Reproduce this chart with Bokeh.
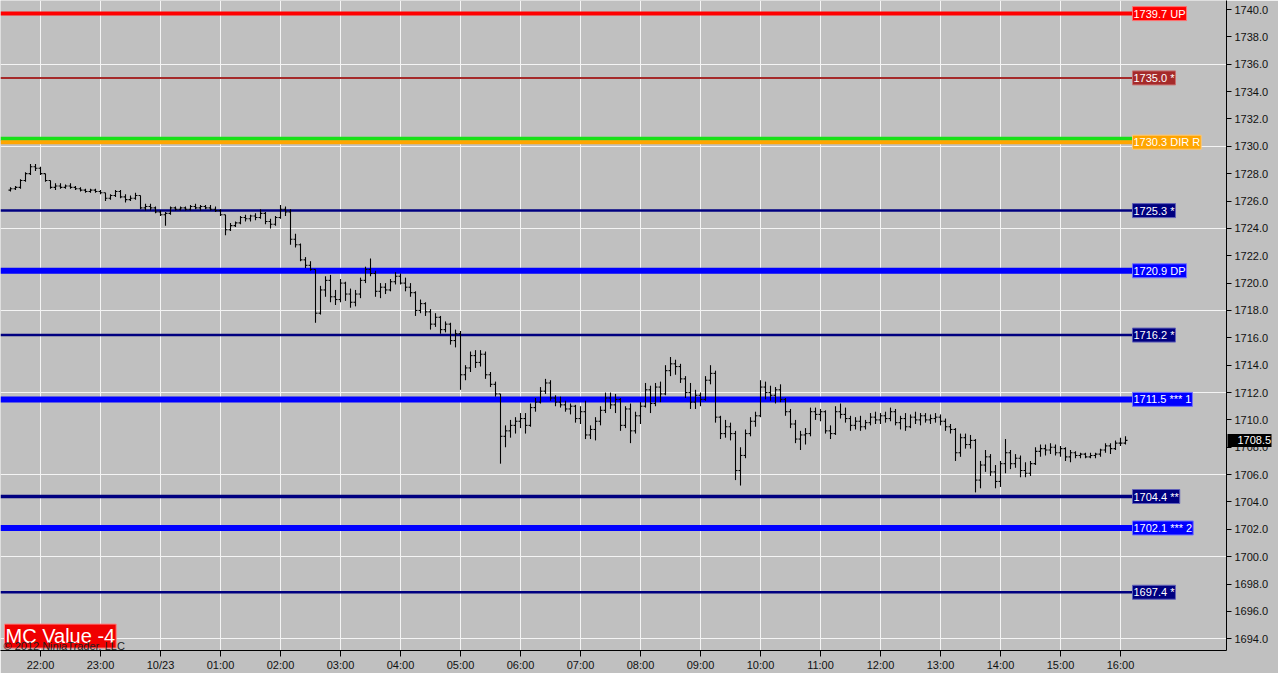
from bokeh.plotting import figure
from bokeh.models import (FixedTicker, Label, NumeralTickFormatter, ColumnDataSource,
                          LinearAxis)
from bokeh.embed import file_html
from bokeh.resources import INLINE

# ---------------- data ----------------
# 5-minute OHLC bars, first bar at 21:30 (10/22); x unit = hours after 22:00
bar_start_hour = -0.5
bar_minutes = 5

opens = [1726.8, 1726.9, 1727.0, 1727.5, 1728.0, 1728.5, 1728.4, 1728.0, 1727.5, 1727.0,
         1727.1, 1727.0, 1727.1, 1727.0, 1726.9, 1726.8, 1726.7, 1726.8, 1726.7, 1726.6,
         1726.2, 1726.4, 1726.7, 1726.3, 1726.1, 1726.2, 1726.4, 1725.5, 1725.6, 1725.5,
         1725.2, 1725.0, 1725.1, 1725.5, 1725.4, 1725.5, 1725.4, 1725.6, 1725.5, 1725.6,
         1725.5, 1725.4, 1725.3, 1725.0, 1723.9, 1724.2, 1724.4, 1724.8, 1724.7, 1724.9,
         1724.8, 1725.1, 1724.5, 1724.3, 1724.8, 1725.4, 1725.2, 1723.2, 1722.8, 1721.7,
         1721.3, 1721.0, 1717.8, 1719.5, 1720.2, 1719.0, 1718.8, 1720.0, 1719.2, 1718.6,
         1719.2, 1720.2, 1721.0, 1720.7, 1719.4, 1719.7, 1719.5, 1720.1, 1720.5, 1720.0,
         1719.7, 1719.3, 1718.0, 1718.5, 1717.9, 1717.0, 1717.5, 1716.6, 1717.0, 1715.8,
         1716.3, 1713.3, 1713.8, 1714.7, 1714.2, 1714.8, 1713.3, 1712.6, 1711.9, 1708.8,
         1709.2, 1709.6, 1709.9, 1710.1, 1709.6, 1710.9, 1711.3, 1712.1, 1712.7, 1711.6,
         1711.3, 1711.1, 1710.8, 1711.0, 1710.1, 1710.6, 1708.9, 1709.3, 1709.9, 1710.7,
         1711.6, 1711.1, 1711.5, 1709.6, 1710.8, 1709.2, 1710.3, 1711.0, 1712.2, 1711.2,
         1712.4, 1711.9, 1713.6, 1714.1, 1713.9, 1713.0, 1712.0, 1711.3, 1711.8, 1711.5,
         1712.9, 1713.4, 1710.2, 1709.0, 1709.5, 1709.0, 1706.3, 1707.4, 1709.0, 1709.9,
         1710.3, 1712.4, 1712.0, 1711.8, 1712.2, 1711.5, 1710.6, 1709.7, 1708.6, 1708.9,
         1709.0, 1710.6, 1710.4, 1710.6, 1709.2, 1709.0, 1710.6, 1710.4, 1710.1, 1709.6,
         1709.9, 1709.5, 1709.8, 1710.2, 1710.0, 1710.3, 1710.1, 1710.6, 1709.8, 1710.1,
         1709.5, 1710.2, 1710.0, 1710.3, 1710.0, 1710.1, 1710.2, 1709.9, 1709.5, 1709.3,
         1707.6, 1708.7, 1708.2, 1708.5, 1705.6, 1706.7, 1707.3, 1706.2, 1705.5, 1706.8,
         1707.6, 1706.8, 1707.2, 1706.3, 1706.1, 1706.8, 1707.7, 1707.9, 1707.8, 1708.0,
         1707.6, 1707.9, 1707.3, 1707.6, 1707.4, 1707.5, 1707.3, 1707.4, 1707.5, 1707.8,
         1708.1, 1707.9, 1708.3, 1708.3]
highs = [1727.0, 1727.1, 1727.6, 1728.1, 1728.7, 1728.7, 1728.5, 1728.0, 1727.5, 1727.3,
         1727.3, 1727.2, 1727.3, 1727.1, 1727.0, 1726.9, 1726.9, 1726.9, 1726.8, 1726.6,
         1726.5, 1726.8, 1726.8, 1726.5, 1726.4, 1726.6, 1726.4, 1725.8, 1725.8, 1725.6,
         1725.3, 1725.2, 1725.6, 1725.6, 1725.6, 1725.6, 1725.7, 1725.8, 1725.7, 1725.7,
         1725.7, 1725.6, 1725.4, 1725.0, 1724.4, 1724.5, 1724.9, 1725.0, 1725.0, 1725.1,
         1725.4, 1725.2, 1724.7, 1724.9, 1725.7, 1725.6, 1725.4, 1723.6, 1722.9, 1721.9,
         1721.6, 1721.0, 1719.8, 1720.5, 1720.6, 1719.5, 1720.3, 1720.1, 1719.6, 1719.5,
         1720.4, 1721.2, 1721.8, 1720.9, 1720.0, 1720.0, 1720.3, 1720.8, 1720.7, 1720.4,
         1720.0, 1719.4, 1718.8, 1718.6, 1718.1, 1717.8, 1717.6, 1717.2, 1717.1, 1716.6,
         1716.5, 1714.0, 1715.0, 1715.1, 1715.1, 1715.0, 1713.5, 1712.8, 1711.9, 1709.6,
         1710.0, 1710.2, 1710.5, 1710.5, 1711.2, 1711.6, 1712.4, 1713.0, 1712.9, 1711.8,
         1711.7, 1711.4, 1711.2, 1711.1, 1711.0, 1711.4, 1709.6, 1710.2, 1711.0, 1712.0,
         1712.0, 1711.9, 1711.6, 1711.0, 1711.2, 1710.6, 1711.3, 1712.7, 1712.5, 1712.7,
         1712.8, 1714.0, 1714.6, 1714.4, 1714.1, 1713.2, 1712.7, 1712.2, 1712.0, 1713.2,
         1714.0, 1713.6, 1710.3, 1710.0, 1709.8, 1709.2, 1708.0, 1709.3, 1710.2, 1710.6,
         1712.9, 1712.8, 1712.5, 1712.4, 1712.6, 1711.6, 1710.8, 1710.0, 1709.2, 1709.4,
         1710.9, 1710.9, 1710.8, 1710.7, 1709.6, 1711.0, 1711.2, 1710.9, 1710.3, 1710.2,
         1710.3, 1710.0, 1710.5, 1710.6, 1710.5, 1710.6, 1710.9, 1710.8, 1710.3, 1710.5,
         1710.4, 1710.6, 1710.5, 1710.5, 1710.4, 1710.5, 1710.4, 1710.1, 1709.7, 1709.4,
         1709.0, 1709.0, 1708.9, 1708.6, 1707.0, 1707.8, 1707.5, 1706.7, 1707.0, 1708.6,
         1707.8, 1707.5, 1707.4, 1706.9, 1707.0, 1708.0, 1708.2, 1708.2, 1708.3, 1708.2,
         1708.1, 1708.0, 1707.8, 1707.7, 1707.6, 1707.6, 1707.6, 1707.6, 1707.9, 1708.3,
         1708.3, 1708.5, 1708.7, 1708.8]
lows = [1726.7, 1726.8, 1726.9, 1727.4, 1727.9, 1728.2, 1727.9, 1727.4, 1726.9, 1726.8,
        1726.9, 1726.9, 1726.9, 1726.8, 1726.7, 1726.6, 1726.6, 1726.6, 1726.5, 1726.0,
        1726.1, 1726.3, 1726.2, 1725.9, 1726.0, 1726.1, 1725.4, 1725.3, 1725.3, 1725.1,
        1724.9, 1724.2, 1725.0, 1725.3, 1725.3, 1725.3, 1725.3, 1725.4, 1725.3, 1725.4,
        1725.3, 1725.2, 1724.9, 1723.5, 1723.8, 1724.1, 1724.3, 1724.5, 1724.5, 1724.6,
        1724.7, 1724.3, 1724.0, 1724.2, 1724.7, 1724.9, 1722.8, 1722.6, 1721.6, 1721.1,
        1720.9, 1717.1, 1717.7, 1719.0, 1718.6, 1718.4, 1718.6, 1718.7, 1718.2, 1718.3,
        1718.9, 1720.0, 1720.5, 1719.0, 1718.9, 1719.2, 1719.4, 1719.9, 1719.9, 1719.4,
        1719.0, 1717.6, 1717.8, 1717.6, 1716.6, 1716.8, 1716.3, 1716.4, 1715.5, 1715.3,
        1712.2, 1712.9, 1713.5, 1713.8, 1713.9, 1713.0, 1712.4, 1711.7, 1706.8, 1708.0,
        1708.7, 1709.0, 1709.4, 1709.0, 1709.5, 1710.6, 1711.2, 1711.9, 1711.4, 1711.0,
        1710.9, 1710.6, 1710.4, 1709.8, 1709.7, 1708.6, 1708.6, 1708.5, 1709.6, 1710.5,
        1710.8, 1710.5, 1709.2, 1709.4, 1708.3, 1709.0, 1709.7, 1710.9, 1710.5, 1711.0,
        1711.3, 1711.8, 1713.2, 1713.3, 1712.7, 1711.6, 1710.8, 1710.8, 1711.0, 1711.4,
        1712.6, 1709.8, 1708.6, 1708.7, 1708.5, 1705.6, 1705.2, 1707.2, 1708.8, 1709.5,
        1710.2, 1711.5, 1711.4, 1711.2, 1711.3, 1710.3, 1709.4, 1708.3, 1707.8, 1708.2,
        1708.8, 1710.0, 1709.9, 1709.0, 1708.6, 1708.9, 1710.1, 1709.8, 1709.2, 1709.3,
        1709.2, 1709.3, 1709.6, 1709.7, 1709.7, 1709.8, 1709.9, 1709.6, 1709.3, 1709.2,
        1709.4, 1709.7, 1709.6, 1709.8, 1709.7, 1709.8, 1709.6, 1709.2, 1709.0, 1707.0,
        1707.3, 1707.9, 1707.9, 1704.7, 1705.0, 1706.2, 1705.9, 1705.0, 1705.1, 1706.1,
        1706.4, 1706.5, 1705.8, 1705.8, 1705.9, 1706.7, 1707.3, 1707.4, 1707.5, 1707.4,
        1707.3, 1707.0, 1706.9, 1707.2, 1707.2, 1707.2, 1707.2, 1707.2, 1707.3, 1707.6,
        1707.5, 1707.8, 1708.1, 1708.2]
closes = [1726.9, 1727.0, 1727.5, 1728.0, 1728.5, 1728.4, 1728.0, 1727.5, 1727.0, 1727.1,
          1727.0, 1727.1, 1727.0, 1726.9, 1726.8, 1726.7, 1726.8, 1726.7, 1726.6, 1726.2,
          1726.4, 1726.7, 1726.3, 1726.1, 1726.2, 1726.4, 1725.5, 1725.6, 1725.5, 1725.2,
          1725.0, 1725.1, 1725.5, 1725.4, 1725.5, 1725.4, 1725.6, 1725.5, 1725.6, 1725.5,
          1725.4, 1725.3, 1725.0, 1723.9, 1724.2, 1724.4, 1724.8, 1724.7, 1724.9, 1724.8,
          1725.1, 1724.5, 1724.3, 1724.8, 1725.4, 1725.2, 1723.2, 1722.8, 1721.7, 1721.3,
          1721.0, 1717.8, 1719.5, 1720.2, 1719.0, 1718.8, 1720.0, 1719.2, 1718.6, 1719.2,
          1720.2, 1721.0, 1720.7, 1719.4, 1719.7, 1719.5, 1720.1, 1720.5, 1720.0, 1719.7,
          1719.3, 1718.0, 1718.5, 1717.9, 1717.0, 1717.5, 1716.6, 1717.0, 1715.8, 1716.3,
          1713.3, 1713.8, 1714.7, 1714.2, 1714.8, 1713.3, 1712.6, 1711.9, 1708.8, 1709.2,
          1709.6, 1709.9, 1710.1, 1709.6, 1710.9, 1711.3, 1712.1, 1712.7, 1711.6, 1711.3,
          1711.1, 1710.8, 1711.0, 1710.1, 1710.6, 1708.9, 1709.3, 1709.9, 1710.7, 1711.6,
          1711.1, 1711.5, 1709.6, 1710.8, 1709.2, 1710.3, 1711.0, 1712.2, 1711.2, 1712.4,
          1711.9, 1713.6, 1714.1, 1713.9, 1713.0, 1712.0, 1711.3, 1711.8, 1711.5, 1712.9,
          1713.4, 1710.2, 1709.0, 1709.5, 1709.0, 1706.3, 1707.4, 1709.0, 1709.9, 1710.3,
          1712.4, 1712.0, 1711.8, 1712.2, 1711.5, 1710.6, 1709.7, 1708.6, 1708.9, 1709.0,
          1710.6, 1710.4, 1710.6, 1709.2, 1709.0, 1710.6, 1710.4, 1710.1, 1709.6, 1709.9,
          1709.5, 1709.8, 1710.2, 1710.0, 1710.3, 1710.1, 1710.6, 1709.8, 1710.1, 1709.5,
          1710.2, 1710.0, 1710.3, 1710.0, 1710.1, 1710.2, 1709.9, 1709.5, 1709.3, 1707.6,
          1708.7, 1708.2, 1708.5, 1705.6, 1706.7, 1707.3, 1706.2, 1705.5, 1706.8, 1707.6,
          1706.8, 1707.2, 1706.3, 1706.1, 1706.8, 1707.7, 1707.9, 1707.8, 1708.0, 1707.6,
          1707.9, 1707.3, 1707.6, 1707.4, 1707.5, 1707.3, 1707.4, 1707.5, 1707.8, 1708.1,
          1707.9, 1708.3, 1708.3, 1708.5]

tick_hours = list(range(0, 19))
tick_labels = ["22:00", "23:00", "10/23", "01:00", "02:00", "03:00", "04:00", "05:00",
               "06:00", "07:00", "08:00", "09:00", "10:00", "11:00", "12:00", "13:00",
               "14:00", "15:00", "16:00"]
price_ticks = [1694 + 2 * k for k in range(24)]
price_grid = [1694 + 6 * k for k in range(8)]

level_values = [1739.7, 1735.0, 1730.3, 1725.3, 1720.9, 1716.2, 1711.5, 1704.4, 1702.1, 1697.4]
level_names = ["UP", "*", "DIR R", "*", "DP", "*", "*** 1", "**", "*** 2", "*"]
level_colors = ["#FF0000", "#A52A2A", "#FFA500", "#000080", "#0000FF",
                "#000080", "#0000FF", "#000080", "#0000FF", "#000080"]
level_borders = ["#FF7070", "#C87070", "#FFC870", "#6060B8", "#7070FF",
                 "#6060B8", "#7070FF", "#6060B8", "#7070FF", "#6060B8"]
level_widths = [4, 2, 4, 2.5, 6, 2.5, 6, 3.5, 6, 2.5]
green_level = 1730.55
last_price = 1708.5
mc_text = "MC Value -4"
copyright_text = "\u00a9 2012 NinjaTrader, LLC"

# ---------------- layout constants ----------------
x_start, x_end = -0.6667, 19.7667
y_start, y_end = 1693.143, 1740.658
line_end = 18.2          # where level lines stop / labels begin
tick_w = 2.0 / 60.0       # open/close tick length (hours)
FONT = "Liberation Sans"
BG = "#C0C0C0"

n = len(closes)
times = [bar_start_hour + i * bar_minutes / 60.0 for i in range(n)]
src = ColumnDataSource(dict(
    t=times, o=opens, h=highs, l=lows, c=closes,
    tl=[t - tick_w for t in times], tr=[t + tick_w for t in times]))

p = figure(frame_width=1226, frame_height=650, x_range=(x_start, x_end),
           y_range=(y_start, y_end), y_axis_location="right",
           output_backend="svg", toolbar_location=None, min_border=0,
           min_border_right=52,
           background_fill_color=BG, border_fill_color=BG,
           outline_line_color=None)

# price axis (right)
yax = p.yaxis[0]
yax.ticker = FixedTicker(ticks=price_ticks)
yax.formatter = NumeralTickFormatter(format="0.0")
yax.major_tick_in = 0
yax.major_tick_out = 5
yax.minor_tick_line_color = None
yax.axis_line_color = "black"
yax.major_tick_line_color = "black"
yax.major_label_text_font = FONT
yax.major_label_text_font_size = "11px"
yax.major_label_text_color = "#111111"
yax.major_label_standoff = 3

# outer right axis for the last-price tag: its single tick points inward as a black bar
# lying over the price labels, and its white label is pulled back onto that bar
tag_axis = LinearAxis(ticker=FixedTicker(ticks=[last_price]),
                      formatter=NumeralTickFormatter(format="0.0"),
                      major_tick_in=44, major_tick_out=0,
                      major_tick_line_color="black", major_tick_line_width=13,
                      minor_tick_line_color=None,
                      axis_line_color=None, major_label_standoff=-34,
                      major_label_text_color="white", major_label_text_font=FONT,
                      major_label_text_font_size="11px")
p.add_layout(tag_axis, "right")

p.xaxis.ticker = FixedTicker(ticks=tick_hours)
p.xaxis.major_label_overrides = {h: lab for h, lab in zip(tick_hours, tick_labels)}
p.xaxis.major_tick_in = 0
p.xaxis.major_tick_out = 6
p.xaxis.minor_tick_line_color = None
p.xaxis.axis_line_color = "black"
p.xaxis.major_tick_line_color = "black"
p.xaxis.major_label_text_font = FONT
p.xaxis.major_label_text_font_size = "11px"
p.xaxis.major_label_text_color = "#111111"
p.xaxis.major_label_standoff = 2

# grids
p.xgrid.grid_line_color = "#F4F4F4"
p.xgrid.grid_line_width = 1
p.ygrid.ticker = FixedTicker(ticks=price_grid)
p.ygrid.grid_line_color = "#F4F4F4"
p.ygrid.grid_line_width = 1

# level lines
p.segment(x0=[x_start], y0=[green_level], x1=[line_end], y1=[green_level],
          line_color="#18E018", line_width=4)
p.segment(x0=[x_start] * len(level_values), y0=level_values,
          x1=[line_end] * len(level_values), y1=level_values,
          line_color=level_colors, line_width=level_widths)

# OHLC bars
p.segment(x0="t", y0="l", x1="t", y1="h", source=src, line_color="black", line_width=1.1)
p.segment(x0="tl", y0="o", x1="t", y1="o", source=src, line_color="black", line_width=1.1)
p.segment(x0="t", y0="c", x1="tr", y1="c", source=src, line_color="black", line_width=1.1)

# level labels
for v, name, col, bcol in zip(level_values, level_names, level_colors, level_borders):
    p.add_layout(Label(x=line_end, y=v, text=f"{v:.1f} {name}", text_color="white",
                       text_font=FONT, text_font_size="11px", text_align="left",
                       text_baseline="middle", background_fill_color=col,
                       border_line_color=bcol, border_line_width=1, padding=1))

# MC value box and copyright
p.add_layout(Label(x=-0.6, y=1693.32, text=mc_text, text_color="white",
                   text_font=FONT, text_font_size="20px", text_align="left",
                   text_baseline="bottom", background_fill_color="#F00000",
                   border_line_color="#FF8080", padding=1))
p.add_layout(Label(x=-0.617, y=1693.44, text=copyright_text, text_color="#222222",
                   text_font=FONT, text_font_size="11px", text_align="left",
                   text_baseline="alphabetic"))

open("out.html", "w").write(file_html(p, INLINE))
